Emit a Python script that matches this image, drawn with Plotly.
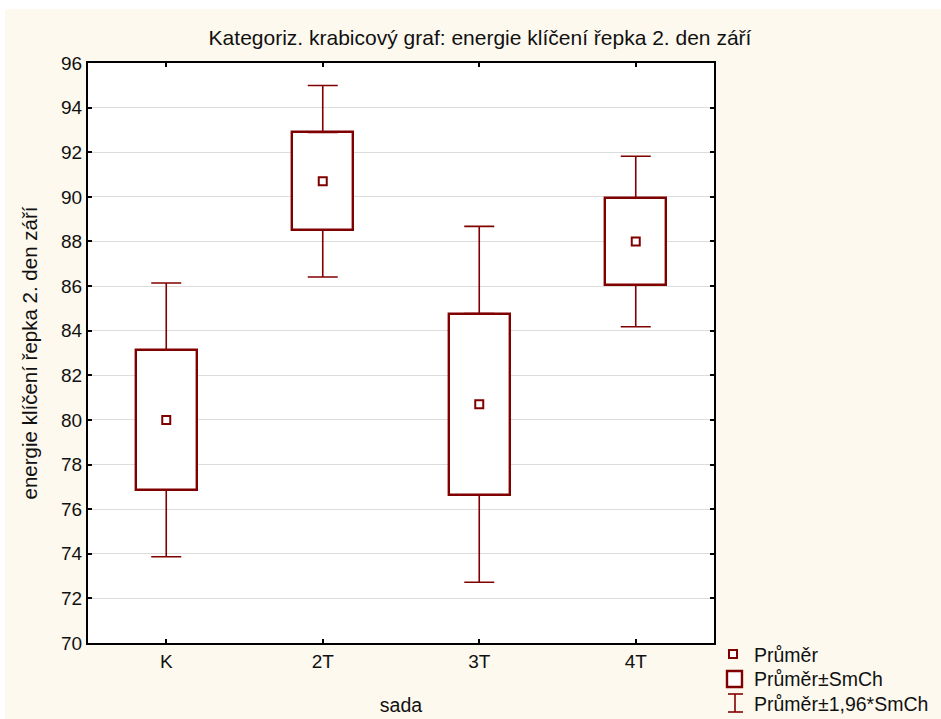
import plotly.graph_objects as go

# Germination energy of rapeseed, day 2, September
sada = ["K", "2T", "3T", "4T"]
prumer = [80.0, 90.7, 80.7, 88.0]        # mean
smch = [3.13, 2.19, 4.07, 1.95]          # standard error of the mean
Z = 1.96                                 # whisker multiplier

DARK_RED = "#800000"
CREAM = "#fdf9ee"
FONT = "Liberation Sans, Arial, sans-serif"

box_lo = [m - s for m, s in zip(prumer, smch)]
box_hi = [m + s for m, s in zip(prumer, smch)]
box_h = [2 * s for s in smch]
wh_extra = [(Z - 1) * s for s in smch]
zeros = [0] * len(sada)

fig = go.Figure()

# Mean ± SE as a hollow box
fig.add_trace(go.Bar(
    x=sada,
    y=box_h,
    base=box_lo,
    width=0.39,
    marker=dict(color="white", line=dict(color=DARK_RED, width=2.4)),
    showlegend=False,
    hoverinfo="skip",
))

# Whiskers out to mean ± 1.96*SE, starting from the box edges
fig.add_trace(go.Scatter(
    x=sada, y=box_hi, mode="markers",
    marker=dict(size=1, color="rgba(0,0,0,0)"),
    error_y=dict(type="data", symmetric=False, array=wh_extra, arrayminus=zeros,
                 color=DARK_RED, thickness=1.6, width=15),
    showlegend=False, hoverinfo="skip",
))
fig.add_trace(go.Scatter(
    x=sada, y=box_lo, mode="markers",
    marker=dict(size=1, color="rgba(0,0,0,0)"),
    error_y=dict(type="data", symmetric=False, array=zeros, arrayminus=wh_extra,
                 color=DARK_RED, thickness=1.6, width=15),
    showlegend=False, hoverinfo="skip",
))

# Mean markers
fig.add_trace(go.Scatter(
    x=sada,
    y=prumer,
    mode="markers",
    marker=dict(symbol="square", size=8, color="white",
                line=dict(color=DARK_RED, width=2)),
    showlegend=False,
    hoverinfo="skip",
))

# Plot area geometry (pixels) used to place the legend in paper units
W, H = 941, 719
L, R, T, B = 88, 714, 63, 643


def px(x):
    return (x - L) / (R - L)


def py(y):
    return (B - y) / (B - T)


shapes = [
    # white strips along the top and left edges of the page
    dict(type="rect", xref="paper", yref="paper", layer="below",
         x0=px(-5), x1=px(W + 5), y0=py(9), y1=py(-5),
         fillcolor="white", line=dict(width=0)),
    dict(type="rect", xref="paper", yref="paper", layer="below",
         x0=px(-5), x1=px(5), y0=py(H + 5), y1=py(-5),
         fillcolor="white", line=dict(width=0)),
    # legend: mean marker
    dict(type="rect", xref="paper", yref="paper",
         x0=px(729), x1=px(737), y0=py(658), y1=py(650),
         fillcolor="white", line=dict(color=DARK_RED, width=2)),
    # legend: box
    dict(type="rect", xref="paper", yref="paper",
         x0=px(727), x1=px(742), y0=py(687), y1=py(671),
         fillcolor="white", line=dict(color=DARK_RED, width=2.4)),
    # legend: whisker
    dict(type="line", xref="paper", yref="paper",
         x0=px(735), x1=px(735), y0=py(712), y1=py(694),
         line=dict(color=DARK_RED, width=1.6)),
    dict(type="line", xref="paper", yref="paper",
         x0=px(728), x1=px(743), y0=py(694), y1=py(694),
         line=dict(color=DARK_RED, width=1.6)),
    dict(type="line", xref="paper", yref="paper",
         x0=px(728), x1=px(743), y0=py(712), y1=py(712),
         line=dict(color=DARK_RED, width=1.6)),
]

legend_items = [("Průměr", 655), ("Průměr±SmCh", 679), ("Průměr±1,96*SmCh", 704)]
annotations = [
    dict(text=t, xref="paper", yref="paper", x=px(752), y=py(yc),
         xanchor="left", yanchor="middle", showarrow=False,
         font=dict(family=FONT, size=19.5, color="#111111"))
    for t, yc in legend_items
]

fig.update_layout(
    width=W, height=H,
    margin=dict(l=L, r=W - R, t=T, b=H - B, autoexpand=False),
    paper_bgcolor=CREAM,
    plot_bgcolor="white",
    font=dict(family=FONT, size=19, color="#111111"),
    title=dict(
        text="Kategoriz. krabicový graf: energie klíčení řepka 2. den září",
        x=480 / W, xref="container", xanchor="center",
        y=1 - 38 / H, yref="container", yanchor="middle",
        font=dict(family=FONT, size=21, color="#111111"),
    ),
    shapes=shapes,
    annotations=annotations,
    showlegend=False,
    bargap=0,
)

fig.update_xaxes(
    type="category",
    range=[-0.5, 3.5],
    automargin=False,
    showline=True, linecolor="black", linewidth=2, mirror="ticks",
    ticks="inside", ticklen=4, tickcolor="black", tickwidth=2,
    showgrid=False, zeroline=False,
    title=dict(text="sada", standoff=28, font=dict(size=19.5)),
    tickfont=dict(size=19),
)

fig.update_yaxes(
    range=[70, 96],
    dtick=2, tick0=70,
    automargin=False,
    showline=True, linecolor="black", linewidth=2, mirror="ticks",
    ticks="inside", ticklen=4, tickcolor="black", tickwidth=2,
    showgrid=True, gridcolor="#dcdcdc", gridwidth=1,
    zeroline=False,
    title=dict(text="energie klíčení řepka 2. den září", standoff=18,
               font=dict(size=20.5)),
    tickfont=dict(size=19),
)

fig.write_html("out.html")
